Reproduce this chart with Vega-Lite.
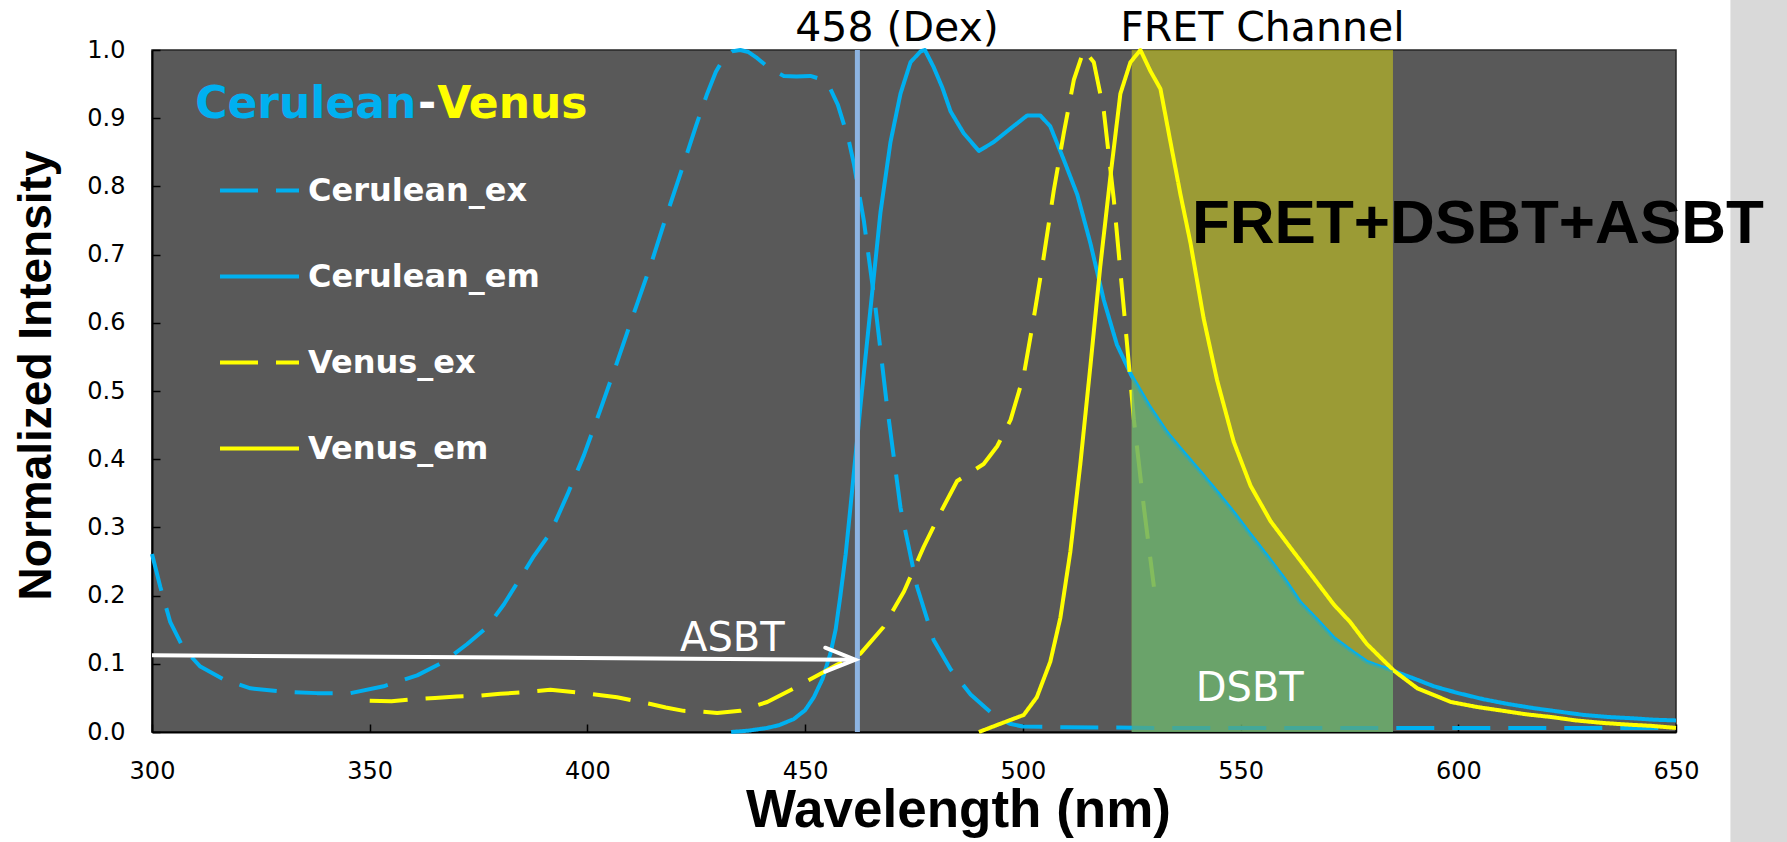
{
"$schema":"https://vega.github.io/schema/vega-lite/v6.json",
"width":1524,"height":682,
"autosize":{"type":"none"},
"padding":{"left":152,"top":50,"right":111,"bottom":110},
"background":"#ffffff",
"config":{"view":{"fill":"#595959","stroke":"#262626","strokeWidth":1.5}},
"datasets":{
"curves":[
{"series":"Cerulean_ex","wl":300,"v":0.261},{"series":"Cerulean_ex","wl":301.9,"v":0.213},{"series":"Cerulean_ex","wl":304.2,"v":0.161},{"series":"Cerulean_ex","wl":307.3,"v":0.122},{"series":"Cerulean_ex","wl":311.1,"v":0.096},{"series":"Cerulean_ex","wl":316.5,"v":0.077},{"series":"Cerulean_ex","wl":322.6,"v":0.064},{"series":"Cerulean_ex","wl":330.2,"v":0.059},{"series":"Cerulean_ex","wl":337.9,"v":0.057},{"series":"Cerulean_ex","wl":345.6,"v":0.057},{"series":"Cerulean_ex","wl":353.2,"v":0.067},{"series":"Cerulean_ex","wl":360.9,"v":0.083},{"series":"Cerulean_ex","wl":367,"v":0.103},{"series":"Cerulean_ex","wl":372.4,"v":0.129},{"series":"Cerulean_ex","wl":377,"v":0.154},{"series":"Cerulean_ex","wl":380.8,"v":0.187},{"series":"Cerulean_ex","wl":384.6,"v":0.226},{"series":"Cerulean_ex","wl":387.7,"v":0.258},{"series":"Cerulean_ex","wl":391.5,"v":0.292},{"series":"Cerulean_ex","wl":395.4,"v":0.348},{"series":"Cerulean_ex","wl":399.2,"v":0.406},{"series":"Cerulean_ex","wl":403,"v":0.473},{"series":"Cerulean_ex","wl":406.8,"v":0.542},{"series":"Cerulean_ex","wl":410.6,"v":0.613},{"series":"Cerulean_ex","wl":414.5,"v":0.684},{"series":"Cerulean_ex","wl":418.3,"v":0.76},{"series":"Cerulean_ex","wl":422.1,"v":0.833},{"series":"Cerulean_ex","wl":425,"v":0.89},{"series":"Cerulean_ex","wl":427.5,"v":0.936},{"series":"Cerulean_ex","wl":429.5,"v":0.968},{"series":"Cerulean_ex","wl":431.3,"v":0.988},{"series":"Cerulean_ex","wl":433.2,"v":0.998},{"series":"Cerulean_ex","wl":435.1,"v":1.0},{"series":"Cerulean_ex","wl":437,"v":0.997},{"series":"Cerulean_ex","wl":439,"v":0.988},{"series":"Cerulean_ex","wl":442,"v":0.972},{"series":"Cerulean_ex","wl":445.1,"v":0.962},{"series":"Cerulean_ex","wl":448,"v":0.961},{"series":"Cerulean_ex","wl":451.2,"v":0.962},{"series":"Cerulean_ex","wl":453.8,"v":0.957},{"series":"Cerulean_ex","wl":455.8,"v":0.943},{"series":"Cerulean_ex","wl":457.5,"v":0.92},{"series":"Cerulean_ex","wl":458.9,"v":0.891},{"series":"Cerulean_ex","wl":460.1,"v":0.865},{"series":"Cerulean_ex","wl":461.2,"v":0.833},{"series":"Cerulean_ex","wl":463.5,"v":0.749},{"series":"Cerulean_ex","wl":466.2,"v":0.62},{"series":"Cerulean_ex","wl":468.8,"v":0.478},{"series":"Cerulean_ex","wl":471.9,"v":0.329},{"series":"Cerulean_ex","wl":475.7,"v":0.213},{"series":"Cerulean_ex","wl":479.5,"v":0.135},{"series":"Cerulean_ex","wl":483.4,"v":0.092},{"series":"Cerulean_ex","wl":488,"v":0.055},{"series":"Cerulean_ex","wl":493.3,"v":0.025},{"series":"Cerulean_ex","wl":497,"v":0.012},{"series":"Cerulean_ex","wl":500,"v":0.008},{"series":"Cerulean_ex","wl":510,"v":0.007},{"series":"Cerulean_ex","wl":530,"v":0.006},{"series":"Cerulean_ex","wl":560,"v":0.006},{"series":"Cerulean_ex","wl":600,"v":0.006},{"series":"Cerulean_ex","wl":650,"v":0.006},
{"series":"Cerulean_em","wl":433,"v":0.0},{"series":"Cerulean_em","wl":437,"v":0.002},{"series":"Cerulean_em","wl":441.3,"v":0.006},{"series":"Cerulean_em","wl":444,"v":0.01},{"series":"Cerulean_em","wl":447.4,"v":0.019},{"series":"Cerulean_em","wl":450,"v":0.032},{"series":"Cerulean_em","wl":452,"v":0.051},{"series":"Cerulean_em","wl":454,"v":0.078},{"series":"Cerulean_em","wl":455.8,"v":0.115},{"series":"Cerulean_em","wl":457,"v":0.15},{"series":"Cerulean_em","wl":458.1,"v":0.2},{"series":"Cerulean_em","wl":459.3,"v":0.26},{"series":"Cerulean_em","wl":460.4,"v":0.329},{"series":"Cerulean_em","wl":461.5,"v":0.4},{"series":"Cerulean_em","wl":462.7,"v":0.478},{"series":"Cerulean_em","wl":465,"v":0.62},{"series":"Cerulean_em","wl":467.3,"v":0.762},{"series":"Cerulean_em","wl":469.6,"v":0.865},{"series":"Cerulean_em","wl":471.9,"v":0.936},{"series":"Cerulean_em","wl":474.2,"v":0.982},{"series":"Cerulean_em","wl":476.5,"v":0.998},{"series":"Cerulean_em","wl":477.5,"v":1.0},{"series":"Cerulean_em","wl":479.5,"v":0.975},{"series":"Cerulean_em","wl":481.5,"v":0.945},{"series":"Cerulean_em","wl":483.4,"v":0.91},{"series":"Cerulean_em","wl":486.4,"v":0.878},{"series":"Cerulean_em","wl":489.9,"v":0.852},{"series":"Cerulean_em","wl":493.3,"v":0.865},{"series":"Cerulean_em","wl":497.2,"v":0.885},{"series":"Cerulean_em","wl":501,"v":0.904},{"series":"Cerulean_em","wl":504,"v":0.904},{"series":"Cerulean_em","wl":506.3,"v":0.888},{"series":"Cerulean_em","wl":509.4,"v":0.839},{"series":"Cerulean_em","wl":512.5,"v":0.788},{"series":"Cerulean_em","wl":515.5,"v":0.717},{"series":"Cerulean_em","wl":518.6,"v":0.633},{"series":"Cerulean_em","wl":521.6,"v":0.568},{"series":"Cerulean_em","wl":525,"v":0.522},{"series":"Cerulean_em","wl":529,"v":0.478},{"series":"Cerulean_em","wl":533.1,"v":0.439},{"series":"Cerulean_em","wl":536.9,"v":0.41},{"series":"Cerulean_em","wl":540.8,"v":0.381},{"series":"Cerulean_em","wl":544.6,"v":0.352},{"series":"Cerulean_em","wl":548.4,"v":0.322},{"series":"Cerulean_em","wl":552.2,"v":0.29},{"series":"Cerulean_em","wl":556.1,"v":0.258},{"series":"Cerulean_em","wl":560,"v":0.225},{"series":"Cerulean_em","wl":563.7,"v":0.19},{"series":"Cerulean_em","wl":567.5,"v":0.165},{"series":"Cerulean_em","wl":571.4,"v":0.138},{"series":"Cerulean_em","wl":575.2,"v":0.12},{"series":"Cerulean_em","wl":579,"v":0.103},{"series":"Cerulean_em","wl":582,"v":0.096},{"series":"Cerulean_em","wl":585,"v":0.09},{"series":"Cerulean_em","wl":590,"v":0.078},{"series":"Cerulean_em","wl":594.4,"v":0.067},{"series":"Cerulean_em","wl":600,"v":0.057},{"series":"Cerulean_em","wl":605.8,"v":0.048},{"series":"Cerulean_em","wl":611.5,"v":0.041},{"series":"Cerulean_em","wl":617.3,"v":0.035},{"series":"Cerulean_em","wl":623,"v":0.03},{"series":"Cerulean_em","wl":628.8,"v":0.025},{"series":"Cerulean_em","wl":634.5,"v":0.022},{"series":"Cerulean_em","wl":640.3,"v":0.02},{"series":"Cerulean_em","wl":645,"v":0.018},{"series":"Cerulean_em","wl":650,"v":0.017},
{"series":"Venus_ex","wl":350,"v":0.046},{"series":"Venus_ex","wl":355,"v":0.045},{"series":"Venus_ex","wl":360,"v":0.048},{"series":"Venus_ex","wl":365,"v":0.05},{"series":"Venus_ex","wl":370,"v":0.052},{"series":"Venus_ex","wl":375,"v":0.053},{"series":"Venus_ex","wl":380,"v":0.056},{"series":"Venus_ex","wl":385,"v":0.058},{"series":"Venus_ex","wl":391.5,"v":0.062},{"series":"Venus_ex","wl":399.2,"v":0.057},{"series":"Venus_ex","wl":406.8,"v":0.051},{"series":"Venus_ex","wl":414.5,"v":0.041},{"series":"Venus_ex","wl":418,"v":0.036},{"series":"Venus_ex","wl":422.1,"v":0.031},{"series":"Venus_ex","wl":426,"v":0.03},{"series":"Venus_ex","wl":429.8,"v":0.028},{"series":"Venus_ex","wl":435.1,"v":0.031},{"series":"Venus_ex","wl":441.3,"v":0.044},{"series":"Venus_ex","wl":447.4,"v":0.064},{"series":"Venus_ex","wl":452.8,"v":0.083},{"series":"Venus_ex","wl":457.4,"v":0.099},{"series":"Venus_ex","wl":462.7,"v":0.115},{"series":"Venus_ex","wl":468,"v":0.154},{"series":"Venus_ex","wl":472.7,"v":0.206},{"series":"Venus_ex","wl":477.2,"v":0.271},{"series":"Venus_ex","wl":481.1,"v":0.322},{"series":"Venus_ex","wl":484.9,"v":0.368},{"series":"Venus_ex","wl":491,"v":0.393},{"series":"Venus_ex","wl":494.1,"v":0.419},{"series":"Venus_ex","wl":497.2,"v":0.458},{"series":"Venus_ex","wl":500.2,"v":0.523},{"series":"Venus_ex","wl":502.5,"v":0.607},{"series":"Venus_ex","wl":504.8,"v":0.697},{"series":"Venus_ex","wl":507.1,"v":0.794},{"series":"Venus_ex","wl":509.4,"v":0.878},{"series":"Venus_ex","wl":511.7,"v":0.956},{"series":"Venus_ex","wl":514,"v":1.0},{"series":"Venus_ex","wl":516.3,"v":0.982},{"series":"Venus_ex","wl":518.6,"v":0.91},{"series":"Venus_ex","wl":520.9,"v":0.78},{"series":"Venus_ex","wl":523.2,"v":0.62},{"series":"Venus_ex","wl":525.5,"v":0.458},{"series":"Venus_ex","wl":527.8,"v":0.329},{"series":"Venus_ex","wl":530.1,"v":0.213},
{"series":"Venus_em","wl":489.9,"v":0.0},{"series":"Venus_em","wl":494.8,"v":0.012},{"series":"Venus_em","wl":500.2,"v":0.025},{"series":"Venus_em","wl":503.2,"v":0.051},{"series":"Venus_em","wl":506.3,"v":0.103},{"series":"Venus_em","wl":508.6,"v":0.167},{"series":"Venus_em","wl":510.9,"v":0.264},{"series":"Venus_em","wl":513.2,"v":0.393},{"series":"Venus_em","wl":515.5,"v":0.536},{"series":"Venus_em","wl":517.8,"v":0.684},{"series":"Venus_em","wl":520.1,"v":0.814},{"series":"Venus_em","wl":522.4,"v":0.936},{"series":"Venus_em","wl":524.7,"v":0.982},{"series":"Venus_em","wl":527,"v":1.0},{"series":"Venus_em","wl":529.3,"v":0.969},{"series":"Venus_em","wl":531.6,"v":0.943},{"series":"Venus_em","wl":533.9,"v":0.865},{"series":"Venus_em","wl":536.2,"v":0.788},{"series":"Venus_em","wl":538.5,"v":0.717},{"series":"Venus_em","wl":541.5,"v":0.607},{"series":"Venus_em","wl":544.6,"v":0.516},{"series":"Venus_em","wl":548.4,"v":0.426},{"series":"Venus_em","wl":552.3,"v":0.361},{"series":"Venus_em","wl":556.9,"v":0.309},{"series":"Venus_em","wl":562.2,"v":0.264},{"series":"Venus_em","wl":567.6,"v":0.219},{"series":"Venus_em","wl":571.4,"v":0.187},{"series":"Venus_em","wl":575.2,"v":0.161},{"series":"Venus_em","wl":579,"v":0.129},{"series":"Venus_em","wl":585.2,"v":0.09},{"series":"Venus_em","wl":590.6,"v":0.064},{"series":"Venus_em","wl":598.3,"v":0.044},{"series":"Venus_em","wl":604,"v":0.037},{"series":"Venus_em","wl":609.8,"v":0.0315},{"series":"Venus_em","wl":615.5,"v":0.026},{"series":"Venus_em","wl":621.3,"v":0.022},{"series":"Venus_em","wl":627,"v":0.017},{"series":"Venus_em","wl":632.8,"v":0.0135},{"series":"Venus_em","wl":638.5,"v":0.011},{"series":"Venus_em","wl":644.3,"v":0.009},{"series":"Venus_em","wl":650,"v":0.006}
]
},
"encoding":{
 "x":{"field":"wl","type":"quantitative","scale":{"domain":[300,650],"nice":false,"zero":false},
  "axis":{"values":[300,350,400,450,500,550,600,650],"format":"d","grid":false,"labelFont":"DejaVu Sans","labelFontSize":24,"labelColor":"#000000","labelFlush":false,"labelOverlap":false,"labelBound":false,"tickSize":-8,"tickColor":"#000000","tickWidth":1.5,"domainColor":"#000000","domainWidth":2,"labelPadding":35,"title":"Wavelength (nm)","titleFont":"Liberation Sans","titleFontWeight":"bold","titleFontSize":53,"titleColor":"#000000","titleX":806,"titleY":94,"titleBaseline":"alphabetic","titleAlign":"center"}},
 "y":{"field":"v","type":"quantitative","scale":{"domain":[0,1],"nice":false,"zero":false},
  "axis":{"values":[0,0.1,0.2,0.3,0.4,0.5,0.6,0.7,0.8,0.9,1.0],"format":".1f","grid":false,"labelFont":"DejaVu Sans","labelFontSize":24,"labelColor":"#000000","labelFlush":false,"labelOverlap":false,"labelBound":false,"tickSize":-8,"tickColor":"#000000","tickWidth":1.5,"domainColor":"#000000","domainWidth":2,"labelPadding":35,"title":"Normalized Intensity","titleFont":"Liberation Sans","titleFontWeight":"bold","titleFontSize":46,"titleColor":"#000000","titleX":-102,"titleY":325,"titleBaseline":"alphabetic","titleAlign":"center","titleAngle":-90}}
},
"layer":[
{"data":{"values":[{"wl":662.5,"wl2":700,"v":1.3,"v2":-0.3}]},
 "mark":{"type":"rect","color":"#d9d9d9","clip":false},
 "encoding":{"x2":{"field":"wl2"},"y2":{"field":"v2"}}},
{"data":{"values":[{"wl":525,"wl2":585,"v":0,"v2":1}]},
 "mark":{"type":"rect","color":"#ffff00","opacity":0.4},
 "encoding":{"x2":{"field":"wl2"},"y2":{"field":"v2"}}},
{"data":{"name":"curves"},
 "mark":{"type":"line","strokeWidth":4,"strokeCap":"butt","strokeJoin":"round"},
 "encoding":{
  "color":{"field":"series","type":"nominal","scale":{"domain":["Cerulean_ex","Cerulean_em","Venus_ex","Venus_em"],"range":["#00b0f0","#00b0f0","#ffff00","#ffff00"]},
   "legend":{"title":null,"orient":"none","legendX":66,"legendY":99,"padding":0,"symbolType":"stroke","symbolSize":6241,"symbolStrokeWidth":4,"labelFont":"DejaVu Sans","labelFontWeight":"bold","labelFontSize":32,"labelColor":"#ffffff","labelLimit":0,"rowPadding":28,"labelOffset":7}},
  "strokeDash":{"field":"series","type":"nominal","scale":{"domain":["Cerulean_ex","Cerulean_em","Venus_ex","Venus_em"],"range":[[38,18],[1,0],[38,18],[1,0]]},
   "legend":{"title":null,"orient":"none","legendX":66,"legendY":99,"padding":0,"symbolType":"stroke","symbolSize":6241,"symbolStrokeWidth":4,"labelFont":"DejaVu Sans","labelFontWeight":"bold","labelFontSize":32,"labelColor":"#ffffff","labelLimit":0,"rowPadding":28,"labelOffset":7}}
 }},
{"data":{"name":"curves"},
 "transform":[{"filter":"datum.series === 'Cerulean_em' && datum.wl >= 525 && datum.wl <= 585"}],
 "mark":{"type":"area","color":"#5aa67c","opacity":0.75}},
{"data":{"values":[{"wl":462,"v":0,"v2":1}]},
 "mark":{"type":"rule","color":"#8db4e2","strokeWidth":5},
 "encoding":{"y2":{"field":"v2"}}},
{"data":{"values":[{"wl":300,"v":0.1125},{"wl":461,"v":0.106}]},
 "mark":{"type":"line","color":"#ffffff","strokeWidth":4}},
{"data":{"values":[{"wl":461.5,"v":0.106}]},
 "mark":{"type":"point","shape":"M-1,-0.4L0,0L-1,0.4","size":3600,"filled":false,"stroke":"#ffffff","strokeWidth":4,"opacity":1,"strokeCap":"round","strokeJoin":"miter"}},
{"data":{"values":[{"label":"458 (Dex)","wl":471.1,"v":1.0138},{"label":"FRET Channel","wl":555.0,"v":1.0138}]},
 "mark":{"type":"text","font":"DejaVu Sans","fontSize":41,"color":"#000000","align":"center","baseline":"alphabetic"},
 "encoding":{"text":{"field":"label"}}},
{"data":{"values":[{"label":"FRET+DSBT+ASBT","wl":604.5,"v":0.717}]},
 "mark":{"type":"text","font":"Liberation Sans","fontWeight":"bold","fontSize":62,"color":"#000000","align":"center","baseline":"alphabetic"},
 "encoding":{"text":{"field":"label"}}},
{"data":{"values":[{"label":"DSBT","wl":552.1,"v":0.0455},{"label":"ASBT","wl":433.3,"v":0.119}]},
 "mark":{"type":"text","font":"DejaVu Sans","fontSize":40,"color":"#ffffff","align":"center","baseline":"alphabetic"},
 "encoding":{"text":{"field":"label"}}},
{"data":{"values":[{"label":"Cerulean","wl":360.7,"v":0.9}]},
 "mark":{"type":"text","font":"DejaVu Sans","fontWeight":"bold","fontSize":44,"color":"#00b0f0","align":"right","baseline":"alphabetic"},
 "encoding":{"text":{"field":"label"}}},
{"data":{"values":[{"label":"-","wl":363.2,"v":0.9}]},
 "mark":{"type":"text","font":"DejaVu Sans","fontWeight":"bold","fontSize":44,"color":"#ffffff","align":"center","baseline":"alphabetic"},
 "encoding":{"text":{"field":"label"}}},
{"data":{"values":[{"label":"Venus","wl":365.5,"v":0.9}]},
 "mark":{"type":"text","font":"DejaVu Sans","fontWeight":"bold","fontSize":44,"color":"#ffff00","align":"left","baseline":"alphabetic"},
 "encoding":{"text":{"field":"label"}}}
]
}
